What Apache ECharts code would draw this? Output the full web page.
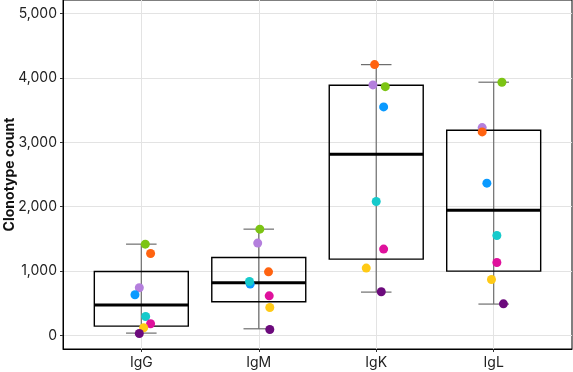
<!DOCTYPE html>
<html>
<head>
<meta charset="utf-8">
<script src="https://cdn.jsdelivr.net/npm/echarts@6/dist/echarts.min.js"></script>
<style>html,body{margin:0;padding:0;background:#fff;}#c{width:573px;height:372px;}</style>
</head>
<body>
<div id="c"></div>
<script>
// ---- data ----
const categories = ['IgG', 'IgM', 'IgK', 'IgL'];
const yTicks = [0, 1000, 2000, 3000, 4000, 5000];
// box statistics per category
const q1 = [146, 523, 1186, 1000];
const median = [472, 818, 2817, 1947];
const q3 = [995, 1211, 3888, 3189];
const whiskerLow = [37, 104, 674, 488];
const whiskerHigh = [1419, 1652, 4208, 3935];
// per-sample values (one per category) and horizontal jitter (category units)
const lavenderVals = [741, 1435, 3893, 3230];
const lavenderJit = [-0.017, -0.009, -0.028, -0.098];
const blueVals = [632, 798, 3551, 2366];
const blueJit = [-0.054, -0.073, 0.063, -0.058];
const orangeVals = [1273, 989, 4208, 3163];
const orangeJit = [0.079, 0.083, -0.014, -0.098];
const cyanVals = [295, 839, 2081, 1553];
const cyanJit = [0.037, -0.079, 0.0, 0.027];
const greenVals = [1419, 1652, 3866, 3935];
const greenJit = [0.034, 0.009, 0.077, 0.070];
const magentaVals = [182, 616, 1342, 1134];
const magentaJit = [0.079, 0.089, 0.063, 0.027];
const yellowVals = [120, 435, 1047, 870];
const yellowJit = [0.020, 0.094, -0.085, -0.019];
const darkPurpleVals = [31, 93, 679, 492];
const darkPurpleJit = [-0.017, 0.094, 0.043, 0.083];

const samples = [
  {name: 'lavender', color: '#B47FDD', vals: lavenderVals, jit: lavenderJit},
  {name: 'blue', color: '#0A9AFF', vals: blueVals, jit: blueJit},
  {name: 'orange', color: '#FF6310', vals: orangeVals, jit: orangeJit},
  {name: 'cyan', color: '#16CACB', vals: cyanVals, jit: cyanJit},
  {name: 'green', color: '#7CC414', vals: greenVals, jit: greenJit},
  {name: 'magenta', color: '#DF119C', vals: magentaVals, jit: magentaJit},
  {name: 'yellow', color: '#FFCA16', vals: yellowVals, jit: yellowJit},
  {name: 'darkPurple', color: '#6C0A7C', vals: darkPurpleVals, jit: darkPurpleJit}
];

const FONT = 'Inter';
const boxData = categories.map((c, i) => [i + 1, q1[i], median[i], q3[i], whiskerLow[i], whiskerHigh[i]]);

const chart = echarts.init(document.getElementById('c'), null, {renderer: 'canvas'});
const option = {
  animation: false,
  backgroundColor: '#fff',
  grid: {left: 63, right: 1, top: 0, bottom: 23, containLabel: false, outerBoundsMode: 'none',
    show: true, borderColor: '#000', borderWidth: 1, backgroundColor: 'transparent'},
  xAxis: {
    type: 'value', min: 1 / 3, max: 14 / 3,
    axisLine: {onZero: false, lineStyle: {color: '#000', width: 1}},
    axisTick: {show: true, length: 3, lineStyle: {color: '#333'}, customValues: [1, 2, 3, 4]},
    axisLabel: {customValues: [1, 2, 3, 4], formatter: v => categories[Math.round(v) - 1] || '', color: '#222', fontFamily: FONT, fontSize: 14, margin: 7},
    splitLine: {show: true, lineStyle: {color: '#e3e3e3', width: 1}}
  },
  yAxis: {
    type: 'value', min: -210, max: 5212,
    name: 'Clonotype count', nameLocation: 'middle', nameGap: 46, nameMoveOverlap: false,
    nameTextStyle: {fontFamily: FONT, fontWeight: 'bold', fontSize: 14, color: '#111'},
    axisLine: {show: true, onZero: false, lineStyle: {color: '#000', width: 1}},
    axisTick: {show: true, length: 3, lineStyle: {color: '#333'}, customValues: yTicks},
    axisLabel: {customValues: yTicks, formatter: v => Math.round(v).toLocaleString('en-US'), color: '#222', fontFamily: FONT, fontSize: 14, margin: 6},
    splitLine: {show: true, lineStyle: {color: '#e3e3e3', width: 1}}
  },
  series: [
    {
      type: 'custom', name: 'box', data: boxData, z: 2,
      renderItem: function (params, api) {
        const x = api.value(0);
        const pLo = api.coord([x, api.value(4)]);
        const pHi = api.coord([x, api.value(5)]);
        const capL = api.coord([x - 0.13, 0])[0], capR = api.coord([x + 0.13, 0])[0];
        const bL = api.coord([x - 0.4, 0])[0], bR = api.coord([x + 0.4, 0])[0];
        const yQ1 = api.coord([x, api.value(1)])[1];
        const yMed = api.coord([x, api.value(2)])[1];
        const yQ3 = api.coord([x, api.value(3)])[1];
        const grey = {stroke: '#6e6e6e', lineWidth: 1.2};
        return {
          type: 'group',
          children: [
            {type: 'line', shape: {x1: pLo[0], y1: pLo[1], x2: pHi[0], y2: pHi[1]}, style: grey},
            {type: 'line', shape: {x1: capL, y1: pLo[1], x2: capR, y2: pLo[1]}, style: grey},
            {type: 'line', shape: {x1: capL, y1: pHi[1], x2: capR, y2: pHi[1]}, style: grey},
            {type: 'rect', shape: {x: bL, y: yQ3, width: bR - bL, height: yQ1 - yQ3}, style: {fill: 'none', stroke: '#000', lineWidth: 1.4}},
            {type: 'line', shape: {x1: bL, y1: yMed, x2: bR, y2: yMed}, style: {stroke: '#000', lineWidth: 3}}
          ]
        };
      }
    }
  ].concat(samples.map(s => ({
    type: 'scatter', name: s.name, z: 3,
    symbol: 'circle', symbolSize: 9,
    itemStyle: {color: s.color, opacity: 1},
    data: s.vals.map((v, i) => [i + 1 + s.jit[i], v])
  })))
};
chart.setOption(option);
</script>
</body>
</html>
